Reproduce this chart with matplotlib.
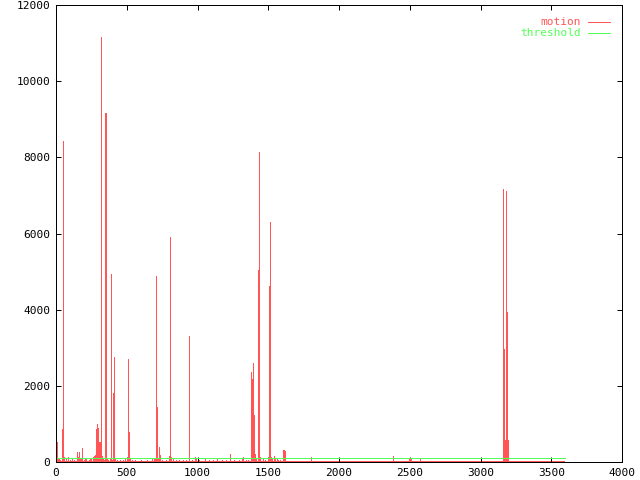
import matplotlib
matplotlib.use("Agg")
import matplotlib.pyplot as plt
import numpy as np

# ---- data ----
frame_start = 0
frame_end = 3600
base_level = 30          # low background motion on every frame
threshold = 100

spike_frames = [0, 2, 4, 6, 8, 10, 12, 20, 30, 42, 45, 48, 50, 52, 55,
                70, 85, 100, 110, 125, 151, 158, 165, 172, 180, 186, 195, 205, 215, 230, 240, 250, 262, 270, 278,
                283, 285, 287, 290, 292, 294, 296, 298, 300, 303, 306, 309, 312, 316, 320, 323, 330, 340,
                349, 351, 353, 355, 360, 370, 380, 391, 398, 405, 408, 412, 420, 430, 450, 470, 490, 500, 507,
                511, 518, 525, 540, 560, 600, 640, 680, 690, 700, 709, 716, 723, 730, 737, 750, 780, 800, 804,
                808, 812, 830, 850, 870, 900, 920, 942, 960, 985, 990, 1010, 1050, 1080, 1110, 1140, 1170, 1200,
                1232, 1260, 1290, 1317, 1320, 1324, 1340, 1360, 1378, 1381, 1383, 1385, 1388, 1392, 1396, 1399,
                1405, 1415, 1428, 1431, 1434, 1437, 1445, 1460, 1480, 1500, 1505, 1508, 1511, 1515, 1520, 1530,
                1543, 1550, 1560, 1570, 1585, 1604, 1608, 1612, 1616, 1620, 1800, 1803, 2384, 2497, 2503, 2507,
                2575,
                3156, 3159, 3162, 3166, 3169, 3173, 3176, 3180, 3183, 3187, 3190, 3193]
spike_values = [520, 520, 520, 184, 184, 184, 100, 80, 60, 866, 866, 866, 180, 8430, 120,
                80, 120, 60, 90, 50, 263, 120, 263, 100, 80, 368, 60, 70, 90, 60, 100, 80, 120, 150, 180,
                866, 866, 998, 998, 880, 880, 880, 300, 184, 184, 525, 525, 150, 200, 11160, 150, 80, 60,
                9165, 9165, 7537, 7537, 100, 60, 80, 4937, 60, 1804, 1804, 2757, 100, 60, 50, 60, 80, 100, 120,
                2705, 788, 80, 60, 50, 50, 60, 100, 100, 100, 4884, 1453, 100, 394, 184, 60, 50, 150, 150,
                5909, 120, 80, 60, 50, 60, 50, 3309, 60, 140, 100, 60, 80, 50, 60, 80, 50, 60,
                210, 50, 60, 100, 131, 131, 60, 60, 2363, 2363, 2180, 2180, 600, 2600, 600, 1234,
                200, 100, 5042, 5042, 500, 8140, 120, 80, 60, 100, 4622, 4622, 4622, 6302, 120, 80,
                158, 100, 80, 60, 60, 315, 315, 289, 289, 150, 131, 131, 158, 79, 79, 79,
                79,
                578, 7169, 578, 2967, 578, 578, 578, 7116, 578, 3939, 578, 578]

x_ticks = [0, 500, 1000, 1500, 2000, 2500, 3000, 3500, 4000]
y_ticks = [0, 2000, 4000, 6000, 8000, 10000, 12000]

red = "#ff5555"
green = "#55ff55"
LW = 0.72  # one pixel at 100 dpi

fig = plt.figure(figsize=(6.4, 4.8), dpi=100)
ax = fig.add_axes([56 / 640, 18 / 480, 566 / 640, 457 / 480])

# background motion
ax.fill_between([frame_start, frame_end], 0, base_level, color=red, linewidth=0, antialiased=False)
# impulses
ax.vlines(spike_frames, 0, spike_values, colors=red, linewidth=LW, antialiased=False)
# threshold
ax.plot([frame_start, frame_end], [threshold, threshold], color=green, linewidth=LW, antialiased=False)

ax.set_xlim(0, 4000)
ax.set_ylim(0, 12000)
ax.set_xticks(x_ticks)
ax.set_yticks(y_ticks)
ax.set_xticklabels([str(t) for t in x_ticks])
ax.set_yticklabels([str(t) for t in y_ticks])
ax.tick_params(direction="in", length=3.6, width=LW, top=True, right=True,
               labelsize=8, pad=4)
for lab in ax.get_xticklabels() + ax.get_yticklabels():
    lab.set_family("DejaVu Sans Mono")
for s in ax.spines.values():
    s.set_linewidth(LW)
    s.set_antialiased(False)

# legend (gnuplot style)
ax.text(0.9276, 0.9635, "motion", color=red, ha="right", va="center",
        family="DejaVu Sans Mono", fontsize=8, transform=ax.transAxes)
ax.plot([0.94, 0.979], [0.9635, 0.9635], color=red, linewidth=LW, antialiased=False,
        transform=ax.transAxes, clip_on=False)
ax.text(0.9276, 0.9387, "threshold", color=green, ha="right", va="center",
        family="DejaVu Sans Mono", fontsize=8, transform=ax.transAxes)
ax.plot([0.94, 0.979], [0.9387, 0.9387], color=green, linewidth=LW, antialiased=False,
        transform=ax.transAxes, clip_on=False)

fig.savefig("out.png", dpi=100)
